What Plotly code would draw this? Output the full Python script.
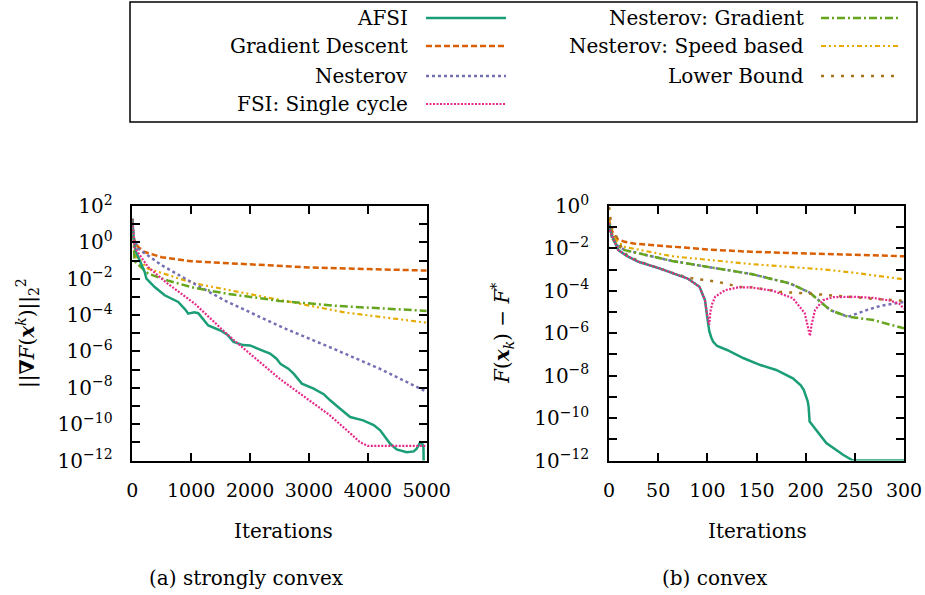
import plotly.graph_objects as go

# ---------------- (a) strongly convex : log10 of ||grad F||^2 -----------------
a_afsi_x = [0, 20, 60, 150, 210, 240, 380, 550, 780, 900, 950, 1050, 1120, 1290, 1500, 1620, 1720, 1880,
            2000, 2170, 2340, 2450, 2520, 2650, 2740, 2880, 3080, 3250, 3360, 3530, 3700, 3920, 4100,
            4210, 4380, 4490, 4660, 4780, 4830, 4890, 4930, 4945, 4950]
a_afsi_y = [1.3, 0.3, -0.5, -1.2, -1.63, -2.0, -2.46, -2.91, -3.28, -3.7, -3.92, -3.85, -3.9, -4.57, -4.85,
            -5.1, -5.48, -5.65, -5.67, -5.9, -6.12, -6.4, -6.7, -6.95, -7.22, -7.77, -8.05, -8.35, -8.69,
            -9.15, -9.61, -9.79, -10.05, -10.34, -11.08, -11.39, -11.54, -11.5, -11.35, -11.0, -11.1, -11.3, -12.5]
a_gd_x = [0, 15, 50, 100, 200, 500, 1000, 2000, 2600, 3000, 4000, 5000]
a_gd_y = [1.3, 0.3, 0.0, -0.25, -0.52, -0.82, -1.04, -1.2, -1.3, -1.38, -1.47, -1.55]
a_nes_x = [0, 20, 100, 500, 1000, 1600, 2200, 2600, 3350, 4200, 5000]
a_nes_y = [1.3, 0.3, -0.35, -1.26, -2.18, -3.25, -4.15, -4.75, -5.76, -6.95, -8.22]
a_fsi_x = [0, 40, 270, 600, 1060, 1625, 2500, 3350, 3700, 3870, 4000, 4500, 5000]
a_fsi_y = [1.3, -0.3, -1.36, -2.27, -3.37, -5.1, -7.5, -9.5, -10.5, -11.0, -11.2, -11.22, -11.2]
a_ngr_x = [0, 40, 270, 600, 1050, 1600, 2500, 3500, 5000]
a_ngr_y = [1.3, -1.05, -1.72, -2.1, -2.5, -2.82, -3.22, -3.5, -3.77]
a_nsp_x = [0, 40, 270, 600, 1050, 1600, 2500, 3600, 5000]
a_nsp_y = [1.3, -0.7, -1.45, -1.8, -2.25, -2.6, -3.15, -3.85, -4.42]

# ---------------- (b) convex : log10 of F(x_k) - F* -----------------
b_gd_x = [0, 2, 8, 16, 25, 64, 100, 145, 200, 248, 300]
b_gd_y = [-0.6, -1.1, -1.55, -1.69, -1.77, -1.93, -2.05, -2.16, -2.24, -2.29, -2.37]
b_nsp_x = [0, 3, 8, 16, 64, 133, 145, 218, 250, 300]
b_nsp_y = [-0.7, -1.3, -1.65, -1.93, -2.37, -2.71, -2.74, -2.99, -3.15, -3.46]
b_ngr_x = [0, 3, 8, 16, 64, 133, 145, 184, 204, 225, 243, 269, 300]
b_ngr_y = [-0.8, -1.5, -1.85, -2.08, -2.59, -3.13, -3.21, -3.65, -4.08, -4.91, -5.22, -5.38, -5.77]
b_nes_x = [0, 3, 8, 16, 64, 133, 145, 184, 204, 225, 243, 262, 276, 290, 300]
b_nes_y = [-0.8, -1.5, -1.85, -2.08, -2.59, -3.13, -3.21, -3.65, -4.08, -4.91, -5.22, -4.91, -4.71, -4.6, -4.52]
b_fsi_x = [0, 1, 4, 9.5, 18, 30, 52, 64, 80, 92, 97.6, 100, 102, 103, 105, 108, 118, 131, 145, 167,
           187, 199, 203, 204.4, 206, 209.5, 217.6, 228, 250, 268, 285, 295, 300]
b_fsi_y = [-0.8, -1.14, -1.5, -2.08, -2.35, -2.63, -2.95, -3.15, -3.42, -3.81, -4.44, -5.2, -5.6, -5.0,
           -4.6, -4.28, -3.97, -3.84, -3.84, -4.0, -4.35, -5.05, -5.8, -6.13, -5.6, -4.91, -4.44, -4.3,
           -4.28, -4.33, -4.45, -4.6, -4.85]
b_afsi_x = [0, 1, 4, 9.5, 18, 30, 52, 64, 80, 92, 97.6, 100.3, 102, 104, 106, 110, 120, 137, 154, 170,
            187, 195, 198, 202, 203, 204, 208, 221, 238, 248, 300]
b_afsi_y = [-0.8, -1.14, -1.5, -2.08, -2.35, -2.63, -2.95, -3.15, -3.42, -3.81, -4.44, -5.38, -5.9, -6.2,
            -6.4, -6.6, -6.79, -7.18, -7.5, -7.73, -8.13, -8.45, -8.67, -9.2, -9.46, -10.16, -10.4,
            -11.18, -11.73, -12.0, -12.0]
b_lb_x = [0, 1, 2, 4, 7.8, 12, 18, 30, 52, 64, 80, 97.6, 111, 125, 133, 145, 174, 201, 228, 276, 300]
b_lb_y = [-0.05, -0.3, -0.9, -1.2, -1.46, -1.9, -2.3, -2.6, -2.95, -3.15, -3.38, -3.5, -3.58, -3.73,
          -3.81, -3.83, -4.05, -4.12, -4.23, -4.4, -4.47]

names = ["AFSI", "Gradient Descent", "Nesterov", "FSI: Single cycle",
         "Nesterov: Gradient", "Nesterov: Speed based", "Lower Bound"]
colors = {"AFSI": "#1b9e77", "Gradient Descent": "#d95f02", "Nesterov": "#7570b3",
          "FSI: Single cycle": "#e7298a", "Nesterov: Gradient": "#66a61e",
          "Nesterov: Speed based": "#e6ab02", "Lower Bound": "#a6761d"}
dashes = {"AFSI": "solid", "Gradient Descent": "6px,3px", "Nesterov": "3px,3px",
          "FSI: Single cycle": "2px,1.5px", "Nesterov: Gradient": "8px,3px,2px,3px",
          "Nesterov: Speed based": "5px,3px,2px,3px,2px,3px", "Lower Bound": "3px,7px"}
widths = {"AFSI": 2.5, "Gradient Descent": 2.5, "Nesterov": 2.5, "FSI: Single cycle": 2.2,
          "Nesterov: Gradient": 2.5, "Nesterov: Speed based": 2.2, "Lower Bound": 2.5}

left = {"AFSI": (a_afsi_x, a_afsi_y), "Gradient Descent": (a_gd_x, a_gd_y), "Nesterov": (a_nes_x, a_nes_y),
        "FSI: Single cycle": (a_fsi_x, a_fsi_y), "Nesterov: Gradient": (a_ngr_x, a_ngr_y),
        "Nesterov: Speed based": (a_nsp_x, a_nsp_y)}
right = {"AFSI": (b_afsi_x, b_afsi_y), "Gradient Descent": (b_gd_x, b_gd_y), "Nesterov": (b_nes_x, b_nes_y),
         "FSI: Single cycle": (b_fsi_x, b_fsi_y), "Nesterov: Gradient": (b_ngr_x, b_ngr_y),
         "Nesterov: Speed based": (b_nsp_x, b_nsp_y), "Lower Bound": (b_lb_x, b_lb_y)}

FONT = "DejaVu Serif"
FS = 20
fig = go.Figure()

draw_order = ["Gradient Descent", "Nesterov: Speed based", "Nesterov", "Nesterov: Gradient",
              "Lower Bound", "AFSI", "FSI: Single cycle"]
for n in draw_order:
    if n in left:
        xs, ls = left[n]
        fig.add_trace(go.Scatter(x=xs, y=[10 ** v for v in ls], mode="lines", name=n, showlegend=False,
                                 line=dict(color=colors[n], dash=dashes[n], width=widths[n]),
                                 xaxis="x", yaxis="y"))
for n in draw_order:
    if n in right:
        xs, ls = right[n]
        fig.add_trace(go.Scatter(x=xs, y=[10 ** v for v in ls], mode="lines", name=n, showlegend=False,
                                 line=dict(color=colors[n], dash=dashes[n], width=widths[n]),
                                 xaxis="x2", yaxis="y2"))

W, H = 925, 595
ydom = [1 - 460.5 / H, 1 - 206 / H]


def yaxis(lo, hi, anchor):
    ks = list(range(lo, hi + 1))
    return dict(type="log", range=[lo, hi], tickmode="array", tickvals=[10 ** k for k in ks],
                ticktext=[("10<sup>%s%d</sup>" % ("−" if k < 0 else "", abs(k))) if k % 2 == 0 else ""
                          for k in ks],
                ticks="inside", ticklen=8, tickwidth=1.5, tickcolor="black", showline=True,
                linecolor="black", linewidth=1.5, mirror="ticks", showgrid=False, zeroline=False,
                tickfont=dict(family=FONT, size=FS, color="black"), ticklabelstandoff=14,
                domain=ydom, anchor=anchor, automargin=False)


def xaxis(hi, step, dom, anchor):
    return dict(range=[0, hi], tickmode="array", tickvals=list(range(0, hi + 1, step)),
                ticks="inside", ticklen=8, tickwidth=1.5, tickcolor="black", showline=True,
                linecolor="black", linewidth=1.5, mirror="ticks", showgrid=False, zeroline=False,
                tickfont=dict(family=FONT, size=FS - 1, color="black"), ticklabelstandoff=12,
                domain=dom, anchor=anchor, automargin=False)


fig.update_layout(
    template="none",
    width=W, height=H, margin=dict(l=0, r=0, t=0, b=0, pad=0), paper_bgcolor="white", plot_bgcolor="white",
    showlegend=False, font=dict(family=FONT, color="black"),
    xaxis=xaxis(5000, 1000, [132.3 / W, 426.7 / W], "y"),
    yaxis=yaxis(-12, 2, "x"),
    xaxis2=xaxis(300, 50, [609 / W, 904 / W], "y2"),
    yaxis2=yaxis(-12, 0, "x2"),
)

ann = []
def txt(x, y, s, size=FS, xanchor="center", angle=0):
    ann.append(dict(x=x / W, y=1 - y / H, xref="paper", yref="paper", text=s, showarrow=False,
                    xanchor=xanchor, yanchor="middle", textangle=angle,
                    font=dict(family=FONT, size=size, color="black")))

txt(283, 531, "Iterations")
txt(757, 531, "Iterations")
txt(246, 578, "(a) strongly convex")
txt(715, 578, "(b) convex")
txt(27, 333, "||<b>∇</b><i>F</i>(<b><i>x</i></b><sup><i>k</i></sup>)||<sub>2</sub><sup>2</sup>", angle=-90)
txt(502, 334, "<i>F</i>(<b><i>x</i></b><sub><i>k</i></sub>) − <i>F</i><sup>*</sup>", angle=-90)

# legend (drawn manually: text right-aligned before the line sample)
shapes = [dict(type="rect", xref="paper", yref="paper", x0=130 / W, x1=917 / W, y0=1 - 122 / H, y1=1 - 2 / H,
               line=dict(color="black", width=1.5))]
legend_pos = [("AFSI", 410, 426, 18), ("Gradient Descent", 410, 426, 46), ("Nesterov", 410, 426, 76),
              ("FSI: Single cycle", 410, 426, 104), ("Nesterov: Gradient", 806, 821, 18),
              ("Nesterov: Speed based", 806, 821, 46), ("Lower Bound", 806, 821, 76)]
for n, tx, lx, ly in legend_pos:
    txt(tx, ly, n, xanchor="right")
    shapes.append(dict(type="line", xref="paper", yref="paper", x0=lx / W, x1=(lx + 80) / W,
                       y0=1 - ly / H, y1=1 - ly / H,
                       line=dict(color=colors[n], dash=dashes[n], width=widths[n])))

fig.update_layout(annotations=ann, shapes=shapes)
fig.write_html("out.html")
